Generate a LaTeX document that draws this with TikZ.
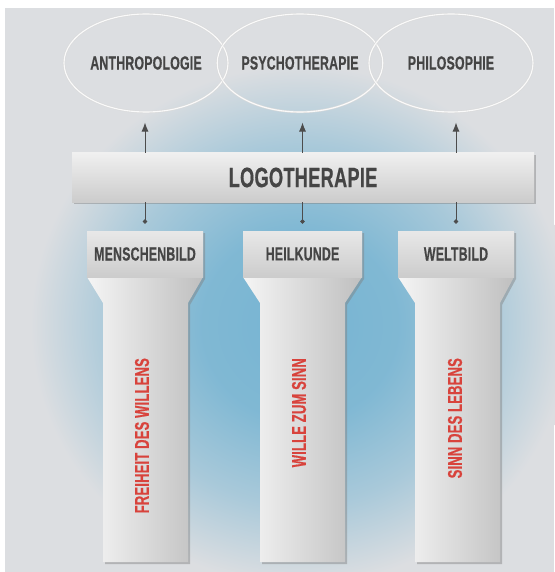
\documentclass[tikz,border=0pt]{standalone}
\usepackage{fontspec}
\newfontfamily\condfont{Liberation Sans}[FakeStretch=0.65, LetterSpace=1, FakeBold=0.5]
\usetikzlibrary{shapes.geometric, arrows.meta, shadows}

\definecolor{bggray}{HTML}{DCDEE1}
\definecolor{glowblue}{HTML}{76B4D2}
\definecolor{labelgray}{HTML}{454545}
\definecolor{wordred}{HTML}{D8433C}

% blue halo behind the pillars (edge of the ellipse is at about 25bp)
\pgfdeclareradialshading{glow}{\pgfpoint{0bp}{0bp}}{color(0bp)=(glowblue); color(9bp)=(glowblue!90!bggray); color(17bp)=(glowblue!50!bggray); color(24.5bp)=(bggray); color(50bp)=(bggray)}

\tikzset{
  labels/.style={font=\condfont\bfseries\fontsize{19}{19}\selectfont, text=labelgray},
  ring/.style={labels, ellipse, minimum width=164pt, minimum height=98pt, inner sep=0pt,
    draw=white!85!bggray, line width=1.1pt, preaction={draw=black!14, line width=2.2pt}},
  bar/.style={rectangle, minimum width=462pt, minimum height=49pt, inner sep=0pt,
    top color=black!6, bottom color=black!20, text=labelgray,
    font=\condfont\bfseries\fontsize{28}{28}\selectfont,
    drop shadow={shadow xshift=2pt, shadow yshift=-2pt, opacity=0.45}},
  capbox/.style={labels, rectangle, minimum height=46pt, inner sep=0pt,
    top color=black!9, bottom color=black!20},
  pillar/.style={left color=black!4, right color=black!25,
    drop shadow={shadow xshift=2pt, shadow yshift=-2pt, opacity=0.45}},
  pillartext/.style={font=\condfont\bfseries\fontsize{20}{20}\selectfont, text=wordred,
    rotate=90, anchor=east, inner sep=0pt},
  uparrow/.style={draw=black!70, line width=0.9pt, -{Latex[length=9pt, width=7pt]}, shorten >=10pt},
  dotline/.style={draw=black!70, line width=0.8pt, -{Circle[length=4.5pt]}, shorten >=7pt}
}

\begin{document}
\begin{tikzpicture}[x=1pt, y=-1pt]
\useasboundingbox (0,0) rectangle (554,572);
\fill[white] (0,0) rectangle (554,572);
\fill[bggray] (5,8) rectangle (554,572);
\shade[shading=glow] (300,325) ellipse [x radius=275pt, y radius=265pt];

% the three fields on top
\node[ring] (anthro) at (146,63) {ANTHROPOLOGIE};
\node[ring] (psycho) at (300,63) {PSYCHOTHERAPIE};
\node[ring] (philo) at (451,63) {PHILOSOPHIE};

% pillars
\path[pillar] (87,231) -- (203,231) -- (203,277) -- (188,303) -- (188,562) -- (103,562) -- (103,303) -- (87,277) -- cycle;
\path[pillar] (243,231) -- (362,231) -- (362,277) -- (345,303) -- (345,562) -- (260,562) -- (260,303) -- (243,277) -- cycle;
\path[pillar] (398,231) -- (514,231) -- (514,277) -- (500,303) -- (500,562) -- (415,562) -- (415,303) -- (398,277) -- cycle;

\node[capbox, minimum width=116pt] (menschen) at (145,254) {MENSCHENBILD};
\node[capbox, minimum width=119pt] (heil) at (302.5,254) {HEILKUNDE};
\node[capbox, minimum width=116pt] (welt) at (456,254) {WELTBILD};

\node[pillartext] (freiheit) at (142,358) {FREIHEIT DES WILLENS};
\node[pillartext] (wille) at (299,358) {WILLE ZUM SINN};
\node[pillartext] (leben) at (455,358) {SINN DES LEBENS};

% main bar
\node[bar] (logo) at (303,177.5) {LOGOTHERAPIE};

\draw[uparrow] (logo.north -| menschen) -- (anthro.south -| menschen);
\draw[uparrow] (logo.north -| heil) -- (psycho.south -| heil);
\draw[uparrow] (logo.north -| welt) -- (philo.south -| welt);

\draw[dotline] (logo.south -| menschen) -- (menschen.north);
\draw[dotline] (logo.south -| heil) -- (heil.north);
\draw[dotline] (logo.south -| welt) -- (welt.north);
\end{tikzpicture}
\end{document}
